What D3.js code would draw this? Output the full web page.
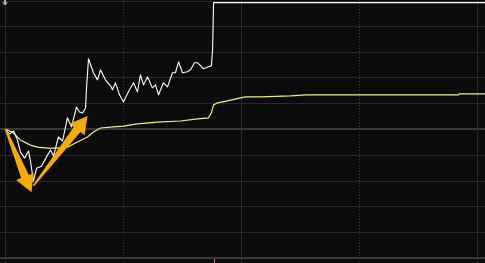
<!DOCTYPE html>
<html>
<head>
<meta charset="utf-8">
<script src="https://cdn.jsdelivr.net/npm/d3@7.9.0/dist/d3.min.js"></script>
<style>
  html, body { margin: 0; padding: 0; background: #0b0b0b; }
  svg { display: block; }
</style>
</head>
<body>
<svg id="chart" width="485" height="263"></svg>
<script>
// intraday minute chart: minutes since open, change vs previous close (%)
const priceMinutes = [0, 2, 4.1, 6.1, 7.6, 9.7, 11.7, 12.7, 14.2, 15.8, 18.3, 20.8, 22.9, 24.4, 26.9, 29, 31.5, 33.6, 36.1, 37.6, 39.2, 40.7, 41.2, 42.2, 44.7, 46.8, 48.3, 50.8, 53.4, 54.4, 55.9, 58, 60, 62.5, 65.1, 67.1, 68.6, 70.2, 72.2, 74.7, 76.3, 77.8, 80.3, 82.4, 84.9, 86.4, 88, 90, 92.5, 94.1, 96.1, 97.6, 100.7, 103.2, 104.7, 105.3, 105.8, 244];
const priceChange = [0, -0.39, -0.16, -0.86, -1.79, -2.26, -1.71, -2.49, -4.05, -3.04, -2.88, -2.18, -1.63, -2.1, -0.62, -0.93, 0.86, 0.16, 1.71, 1.32, 1.25, 1.63, 3.19, 5.45, 4.36, 3.81, 4.59, 3.81, 3.35, 3.04, 3.58, 2.65, 2.1, 2.88, 3.58, 2.88, 4.2, 3.42, 4.05, 3.19, 3.42, 2.65, 3.58, 3.27, 4.36, 4.36, 5.21, 4.36, 4.44, 4.59, 5.14, 5.14, 4.67, 4.82, 4.9, 6.15, 9.8, 9.8];

const avgMinutes = [0, 4.1, 7.6, 12.7, 16.3, 21.4, 26.4, 31.5, 36.6, 41.7, 44.7, 48.3, 54.9, 60, 67.1, 77.3, 89, 97.6, 103.2, 104.7, 105.8, 107.8, 112.9, 119.5, 122, 129.7, 144.9, 153, 230.3, 230.8, 244];
const avgChange = [0, -0.31, -0.86, -1.25, -1.4, -1.48, -1.48, -1.4, -1.01, -0.62, -0.23, 0.08, 0.16, 0.23, 0.39, 0.54, 0.62, 0.78, 0.86, 1.25, 1.87, 2.02, 2.18, 2.41, 2.49, 2.49, 2.57, 2.65, 2.65, 2.72, 2.72];

const volumeMinutes = [105.8];
const volumeValues = [1];

const gridChanges = [-10, -8, -6, -4, -2, 0, 2, 4, 6, 8, 10];
const gridMinutes = [0, 60, 120, 180, 240];

// hand-drawn annotation arrows: [startMinute, startChange, endMinute, endChange]
const arrows = [
  [0, 0, 13.2, -4.9],
  [14.2, -4.4, 41.7, 1.0]
];

const svg = d3.select('#chart');
const W = 485, H = 263;

svg.append('rect').attr('width', W).attr('height', H).attr('fill', '#0b0b0b');

const x = d3.scaleLinear().domain([0, 240]).range([5.5, 477.5]);
const y = d3.scaleLinear().domain([-10, 10]).range([258, 0]);
const vy = d3.scaleLinear().domain([0, 1]).range([263, 259]);

// horizontal grid
gridChanges.forEach(c => {
  const thick = c === 0 || c === -10;
  let yy = thick ? Math.round(y(c)) : Math.round(y(c)) + 0.5;
  if (c === 10) yy = 1.5;
  svg.append('line')
    .attr('x1', 0).attr('x2', W)
    .attr('y1', yy).attr('y2', yy)
    .attr('stroke', thick ? '#383838' : '#2a2a2a')
    .attr('stroke-width', thick ? 2 : 1);
});

// vertical grid
gridMinutes.forEach((m, i) => {
  svg.append('line')
    .attr('x1', x(m)).attr('x2', x(m))
    .attr('y1', 0).attr('y2', H)
    .attr('stroke', i % 2 ? '#3a3a3a' : '#2a2a2a')
    .attr('stroke-width', 1)
    .attr('stroke-dasharray', i % 2 ? '1,2' : null);
});

// volume
volumeMinutes.forEach((m, i) => {
  svg.append('line')
    .attr('x1', Math.round(x(m)) + 0.5).attr('x2', Math.round(x(m)) + 0.5)
    .attr('y1', vy(volumeValues[i])).attr('y2', vy(0))
    .attr('stroke', '#d86a6a').attr('stroke-width', 1);
});

const line = d3.line().x(d => x(d[0])).y(d => y(d[1]));

svg.append('path')
  .attr('d', line(avgMinutes.map((m, i) => [m, avgChange[i]])))
  .attr('fill', 'none').attr('stroke', '#f2f07a').attr('stroke-width', 1.2);

svg.append('path')
  .attr('d', line(priceMinutes.map((m, i) => [m, priceChange[i]])))
  .attr('fill', 'none').attr('stroke', '#ffffff').attr('stroke-width', 1.1)
  .attr('stroke-linejoin', 'round');

// arrows
arrows.forEach(a => {
  const x0 = x(a[0]), y0 = y(a[1]), x1 = x(a[2]), y1 = y(a[3]);
  const dx = x1 - x0, dy = y1 - y0, len = Math.hypot(dx, dy);
  const ux = dx / len, uy = dy / len, px = -uy, py = ux;
  const headLen = 17, headW = 9.5, tailW = 0.8, neckW = 4.2;
  const bx = x1 - ux * headLen, by = y1 - uy * headLen;
  const pts = [
    [x0 + px * tailW, y0 + py * tailW],
    [bx + px * neckW, by + py * neckW],
    [bx + px * headW, by + py * headW],
    [x1, y1],
    [bx - px * headW, by - py * headW],
    [bx - px * neckW, by - py * neckW],
    [x0 - px * tailW, y0 - py * tailW]
  ];
  svg.append('path')
    .attr('d', 'M' + pts.map(p => p.join(',')).join('L') + 'Z')
    .attr('fill', '#f5ab00');
});

// small collapse marker at top-left
svg.append('path')
  .attr('d', 'M4,0L6,0L6,2.5L8,2.5L5,5.5L2,2.5L4,2.5Z')
  .attr('fill', '#b0b0b0');
</script>
</body>
</html>
